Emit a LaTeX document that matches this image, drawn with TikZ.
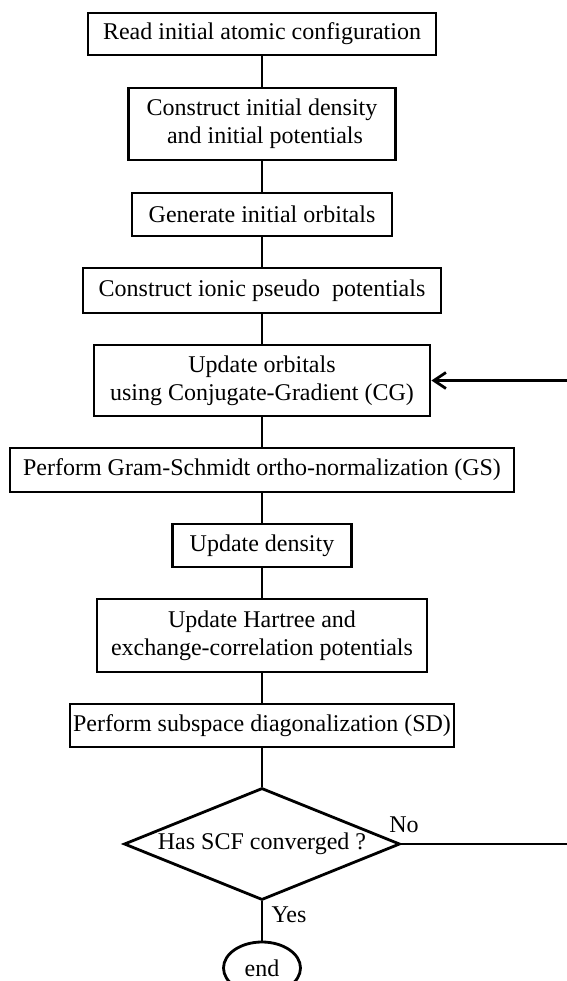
\documentclass[tikz,border=0pt]{standalone}
\usepackage{fontspec}
\setmainfont{Liberation Serif}
\usetikzlibrary{shapes.geometric,arrows.meta}

\begin{document}
\begin{tikzpicture}[x=0.5pt,y=-0.5pt,line width=1.4pt,
    blok/.style={draw,align=center,inner sep=0pt,font=\fontsize{12}{14}\selectfont},
    metka/.style={font=\fontsize{12}{14}\selectfont}]
    \def\u{0.5pt}
    \useasboundingbox (0,0) rectangle (567,981);

    % Блоки
    \node[blok,minimum width=348*\u,minimum height=42*\u] (read) at (262,34) {Read initial atomic configuration};
    \node[blok,minimum width=267*\u,minimum height=72*\u] (dens) at (262,124) {Construct initial density\\ \ and initial potentials};
    \node[blok,minimum width=260*\u,minimum height=43*\u] (orb) at (262,214.5) {Generate initial orbitals};
    \node[blok,minimum width=358*\u,minimum height=45*\u] (pseudo) at (262,290.5) {Construct ionic pseudo \ potentials};
    \node[blok,minimum width=336*\u,minimum height=71*\u] (cg) at (262,380.5) {Update orbitals\\using Conjugate-Gradient (CG)};
    \node[blok,minimum width=504*\u,minimum height=44*\u] (gs) at (262,470) {Perform Gram-Schmidt ortho-normalization (GS)};
    \node[blok,minimum width=179*\u,minimum height=43*\u] (upd) at (262,545.5) {Update density};
    \node[blok,minimum width=330*\u,minimum height=73*\u] (hxc) at (262,635.5) {Update Hartree and\\exchange-correlation potentials};
    \node[blok,minimum width=384*\u,minimum height=43*\u] (sd) at (262,725.5) {Perform subspace diagonalization (SD)};

    % Проверка и конец
    \node[blok,diamond,aspect=2.46,minimum width=276*\u,minimum height=112*\u] (conv) at (262,844) {Has SCF converged ?};
    \node[blok,ellipse,minimum width=77*\u,minimum height=52*\u] (end) at (262,968) {end};
    \coordinate (back) at (590,0);

    % Линии
    \draw (read) -- (dens);
    \draw (dens) -- (orb);
    \draw (orb) -- (pseudo);
    \draw (pseudo) -- (cg);
    \draw (cg) -- (gs);
    \draw (gs) -- (upd);
    \draw (upd) -- (hxc);
    \draw (hxc) -- (sd);
    \draw (sd) -- (conv);
    \draw (conv) -- (end);
    \draw[-{Straight Barb[length=6pt,width=8pt]}] (conv.east) -- (conv.east -| back) |- (cg.east);

    % Подписи
    \node[metka] (no) at (404,825) {No};
    \node[metka] (yes) at (289,915) {Yes};

\end{tikzpicture}
\end{document}
